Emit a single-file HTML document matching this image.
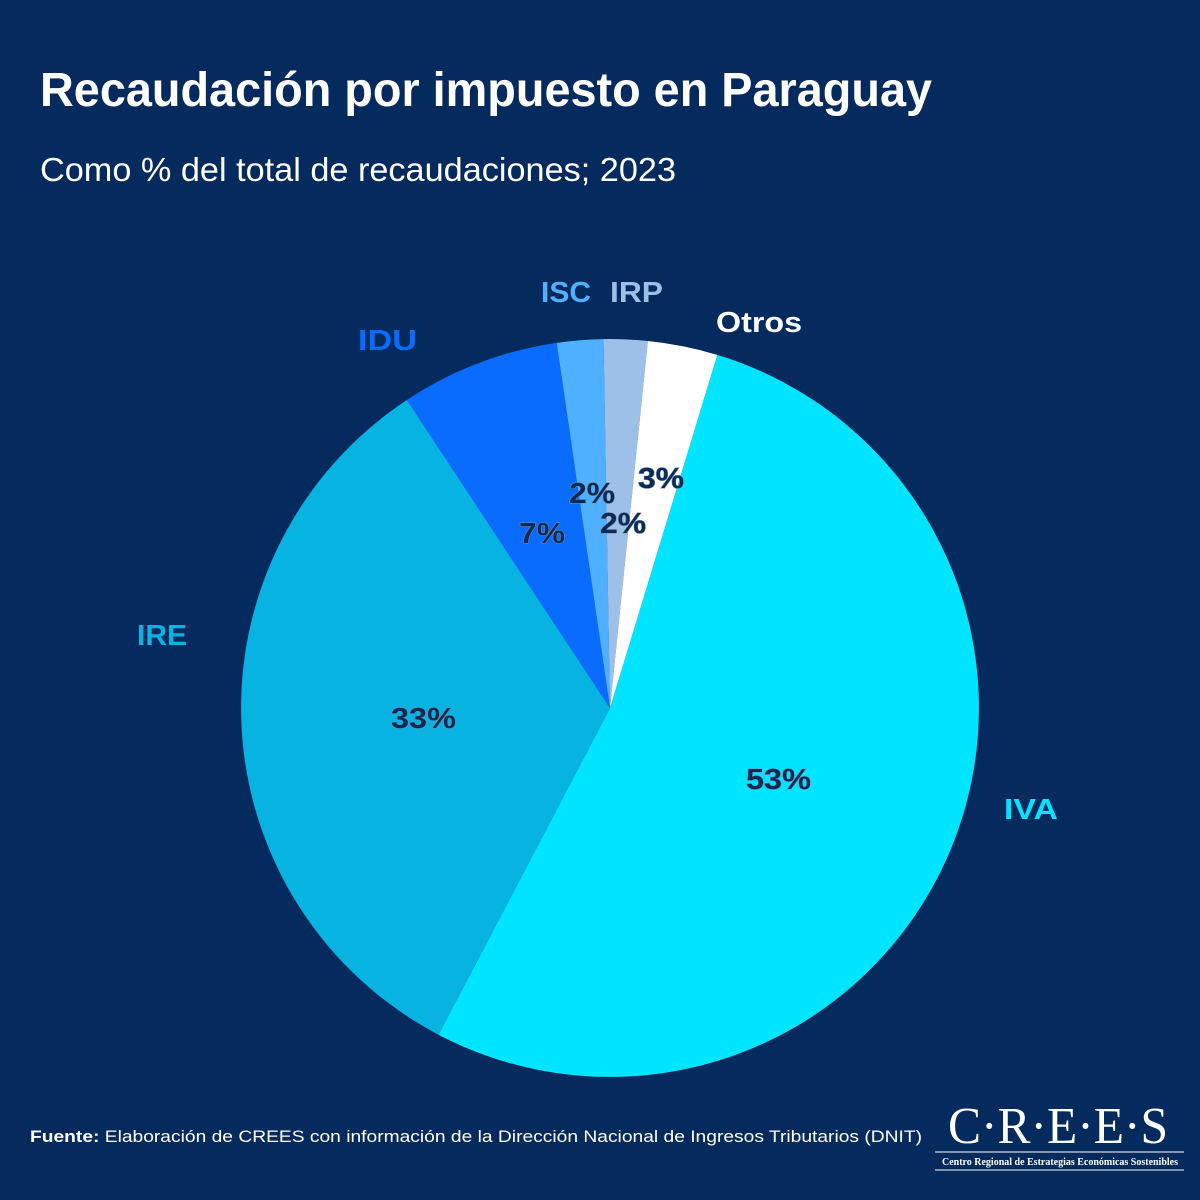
<!DOCTYPE html>
<html><head><meta charset="utf-8"><style>html,body{margin:0;padding:0;background:#052a5e}svg{display:block}</style></head>
<body>
<svg width="1200" height="1200" viewBox="0 0 1200 1200" xmlns="http://www.w3.org/2000/svg" font-family="Liberation Sans, sans-serif">
<rect width="1200" height="1200" fill="#052a5e"/>
<text x="40" y="106" font-size="48" font-weight="bold" fill="#fff" textLength="892" lengthAdjust="spacingAndGlyphs">Recaudación por impuesto en Paraguay</text>
<text x="40" y="181" font-size="33" fill="#fff" textLength="636" lengthAdjust="spacingAndGlyphs">Como % del total de recaudaciones; 2023</text>
<g>
<path d="M610,708 L717.3,354.9 A369,369 0 1 1 438.5,1034.7 Z" fill="#00e5ff"/>
<path d="M610,708 L438.5,1034.7 A369,369 0 0 1 406.9,400 Z" fill="#07b3e1"/>
<path d="M610,708 L406.9,400 A369,369 0 0 1 556.7,342.9 Z" fill="#0a6cff"/>
<path d="M610,708 L556.7,342.9 A369,369 0 0 1 603.5,339.1 Z" fill="#4fb0ff"/>
<path d="M610,708 L603.5,339.1 A369,369 0 0 1 647.9,341 Z" fill="#9dc0e8"/>
<path d="M610,708 L647.9,341 A369,369 0 0 1 717.3,354.9 Z" fill="#ffffff"/>
</g>
<g font-size="29" font-weight="bold">
<text x="541" y="302" fill="#4fb0ff" textLength="50" lengthAdjust="spacingAndGlyphs">ISC</text>
<text x="610" y="302" fill="#9dc0e8" textLength="53" lengthAdjust="spacingAndGlyphs">IRP</text>
<text x="716" y="332" fill="#fff" textLength="86" lengthAdjust="spacingAndGlyphs">Otros</text>
<text x="358" y="350" fill="#0a6cff" textLength="59" lengthAdjust="spacingAndGlyphs">IDU</text>
<text x="137" y="645" fill="#07b3e1" textLength="50" lengthAdjust="spacingAndGlyphs">IRE</text>
<text x="1004" y="819" fill="#00e5ff" textLength="54" lengthAdjust="spacingAndGlyphs">IVA</text>
</g>
<g font-size="29" font-weight="bold" fill="#0d2a55" stroke="#6f8fb5" stroke-width="1" paint-order="stroke">
<text x="569" y="503" textLength="46" lengthAdjust="spacingAndGlyphs">2%</text>
<text x="600" y="533" textLength="46" lengthAdjust="spacingAndGlyphs">2%</text>
<text x="638" y="488" textLength="46" lengthAdjust="spacingAndGlyphs">3%</text>
<text x="519" y="543" textLength="46" lengthAdjust="spacingAndGlyphs">7%</text>
<text x="391" y="728" textLength="65" lengthAdjust="spacingAndGlyphs">33%</text>
<text x="746" y="789" textLength="65" lengthAdjust="spacingAndGlyphs">53%</text>
</g>
<text x="30" y="1142" font-size="17" fill="#fff" textLength="892" lengthAdjust="spacingAndGlyphs"><tspan font-weight="bold">Fuente:</tspan> Elaboración de CREES con información de la Dirección Nacional de Ingresos Tributarios (DNIT)</text>
<text x="948" y="1143" font-family="Liberation Serif, serif" font-size="52" fill="#fff" textLength="220" lengthAdjust="spacingAndGlyphs">C·R·E·E·S</text>
<line x1="935" y1="1152" x2="1184" y2="1152" stroke="#fff" stroke-width="1"/>
<text x="942" y="1165" font-family="Liberation Serif, serif" font-size="10" font-weight="bold" fill="#fff" textLength="236" lengthAdjust="spacingAndGlyphs">Centro Regional de Estrategias Económicas Sostenibles</text>
<line x1="935" y1="1170" x2="1184" y2="1170" stroke="#fff" stroke-width="1"/>
</svg>
</body></html>
